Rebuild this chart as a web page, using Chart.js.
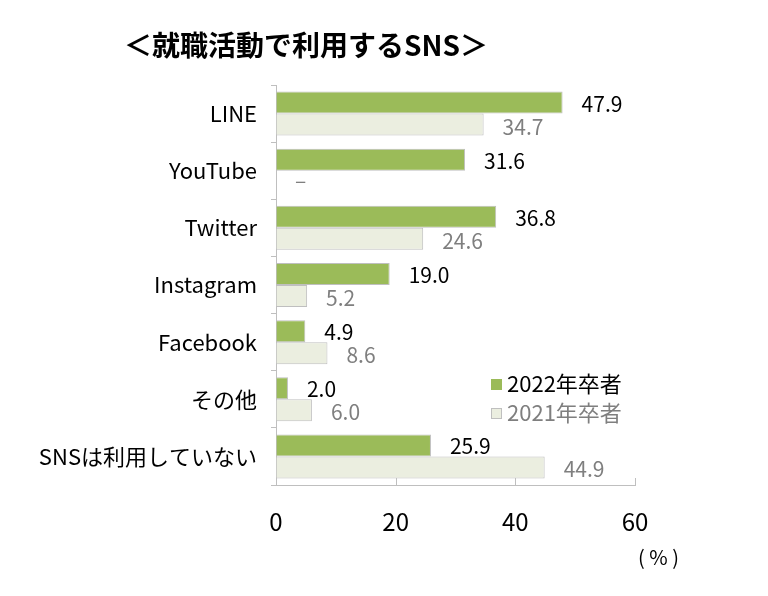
<!DOCTYPE html>
<html lang="ja">
<head>
<meta charset="utf-8">
<script src="https://cdn.jsdelivr.net/npm/chart.js@4/dist/chart.umd.min.js"></script>
<style>
  html, body { margin: 0; padding: 0; background: #fff; }
  #wrap { width: 768px; height: 596px; }
</style>
</head>
<body>
<div id="wrap"><canvas id="chart" width="768" height="596"></canvas></div>
<script>
/* ===== Data ===== */
const categories = ['LINE', 'YouTube', 'Twitter', 'Instagram', 'Facebook', 'その他', 'SNSは利用していない'];
const values2022 = [47.9, 31.6, 36.8, 19.0, 4.9, 2.0, 25.9];
const values2021 = [34.7, null, 24.6, 5.2, 8.6, 6.0, 44.9];
const seriesNames = ['2022年卒者', '2021年卒者'];
const xTicks = [0, 20, 40, 60];

const FONT = '"Noto Sans CJK JP", "Noto Sans", sans-serif';
const GREEN = '#9BBB59';
const PALE = '#EBEEE0';
const EDGE = '#BFBFBF';
const GRAY_TEXT = '#7F7F7F';

/* ===== Extras: title, value labels, legend, unit, inner ticks ===== */
const extras = {
  id: 'extras',
  afterDraw(chart) {
    const ctx = chart.ctx;
    const area = chart.chartArea;
    const xs = chart.scales.x;
    ctx.save();

    // title
    ctx.fillStyle = '#000';
    ctx.font = 'bold 28px ' + FONT;
    ctx.textAlign = 'center';
    ctx.textBaseline = 'middle';
    ctx.fillText('＜就職活動で利用するSNS＞', 306, 45);

    // x-axis tick marks pointing up into the plot
    ctx.strokeStyle = EDGE;
    ctx.lineWidth = 1;
    xTicks.forEach(v => {
      if (v === 0) {return;}
      const px = Math.round(xs.getPixelForValue(v)) + 0.5;
      ctx.beginPath();
      ctx.moveTo(px, area.bottom);
      ctx.lineTo(px, area.bottom - 7);
      ctx.stroke();
    });

    // value labels
    ctx.font = '21px ' + FONT;
    ctx.textAlign = 'left';
    ctx.textBaseline = 'middle';
    chart.data.datasets.forEach((ds, di) => {
      const meta = chart.getDatasetMeta(di);
      ctx.fillStyle = di === 0 ? '#000' : GRAY_TEXT;
      meta.data.forEach((bar, i) => {
        const v = ds.data[i];
        const y = bar.y + (di === 0 ? 1 : 2);
        if (v === null) {
          ctx.fillText('–', xs.getPixelForValue(0) + 19, y - 4);
        } else {
          ctx.fillText(v.toFixed(1), xs.getPixelForValue(v) + 19, y);
        }
      });
    });

    // legend
    ctx.font = '22px ' + FONT;
    const legendRows = [
      { name: seriesNames[0], fill: GREEN, text: '#000', y: 384 },
      { name: seriesNames[1], fill: PALE, text: GRAY_TEXT, y: 413 },
    ];
    legendRows.forEach(r => {
      ctx.fillStyle = r.fill;
      ctx.fillRect(491, r.y - 5, 11, 11);
      if (r.fill === PALE) {
        ctx.strokeStyle = EDGE;
        ctx.strokeRect(491.5, r.y - 4.5, 10, 10);
      }
      ctx.fillStyle = r.text;
      ctx.fillText(r.name, 507, r.y);
    });

    // unit
    ctx.fillStyle = '#000';
    ctx.font = '20px ' + FONT;
    ctx.fillText('( % )', 638, 557);

    ctx.restore();
  },
};

/* ===== Chart ===== */
new Chart(document.getElementById('chart'), {
  type: 'bar',
  data: {
    labels: categories,
    datasets: [
      {
        label: seriesNames[0],
        data: values2022,
        backgroundColor: GREEN,
        borderColor: EDGE,
        borderWidth: 1,
        categoryPercentage: 0.77,
        barPercentage: 1.0,
      },
      {
        label: seriesNames[1],
        data: values2021,
        backgroundColor: PALE,
        borderColor: EDGE,
        borderWidth: 1,
        categoryPercentage: 0.77,
        barPercentage: 1.0,
      },
    ],
  },
  options: {
    indexAxis: 'y',
    responsive: false,
    animation: false,
    layout: { padding: { top: 85, right: 133, bottom: 0, left: 0 } },
    plugins: {
      legend: { display: false },
      title: { display: false },
      tooltip: { enabled: false },
    },
    scales: {
      x: {
        min: 0,
        max: 60,
        afterBuildTicks: scale => { scale.ticks = xTicks.map(v => ({ value: v })); },
        afterFit: scale => { scale.height = 111; },
        grid: { drawOnChartArea: false, drawTicks: false },
        border: { color: EDGE, width: 1 },
        ticks: {
          padding: 22,
          color: '#000',
          font: { family: FONT, size: 24 },
          maxRotation: 0,
        },
      },
      y: {
        afterFit: scale => { scale.width = 276; },
        grid: { drawOnChartArea: false, drawTicks: true, tickLength: 5, color: EDGE, offset: true },
        border: { color: EDGE, width: 1 },
        ticks: {
          padding: 14,
          color: '#000',
          font: { family: FONT, size: 22 },
          autoSkip: false,
        },
      },
    },
  },
  plugins: [extras],
});
</script>
</body>
</html>
